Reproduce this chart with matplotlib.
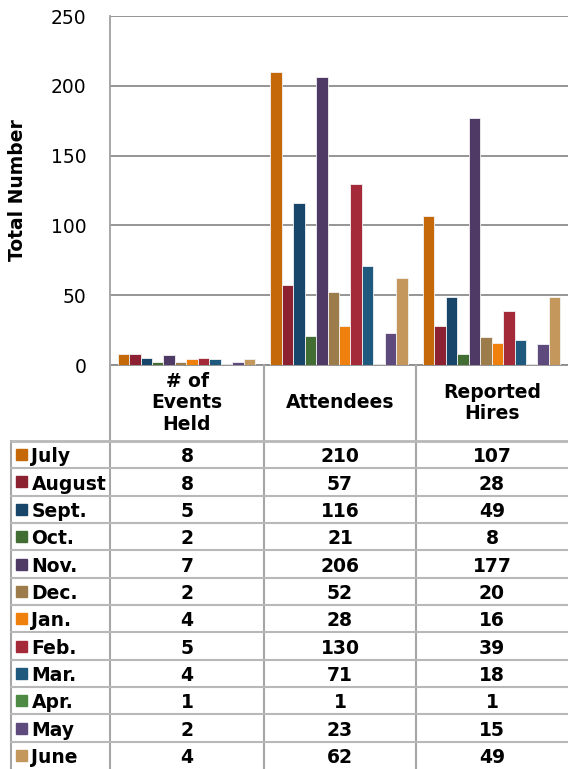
import matplotlib.pyplot as plt
from matplotlib.patches import Rectangle
from matplotlib.lines import Line2D
import numpy as np

months = ["July", "August", "Sept.", "Oct.", "Nov.", "Dec.",
          "Jan.", "Feb.", "Mar.", "Apr.", "May", "June"]
categories = ["# of\nEvents\nHeld", "Attendees", "Reported\nHires"]
events_held = [8, 8, 5, 2, 7, 2, 4, 5, 4, 1, 2, 4]
attendees = [210, 57, 116, 21, 206, 52, 28, 130, 71, 1, 23, 62]
reported_hires = [107, 28, 49, 8, 177, 20, 16, 39, 18, 1, 15, 49]
colors = ["#C5680A", "#8B2131", "#17466A", "#426E34", "#4F3A66", "#9C7C4A",
          "#F0800E", "#A42A3A", "#1F5A7E", "#4E8A43", "#5F4A7D", "#C4985C"]
yticks = [0, 50, 100, 150, 200, 250]

series = [events_held, attendees, reported_hires]

W, H = 568, 769
plt.rcParams['font.family'] = 'DejaVu Sans'
fig = plt.figure(figsize=(W / 100, H / 100), dpi=100)


def fx(x):
    return x / W


def fy(y):
    return 1 - y / H


# layout in pixels
left, right, top, base = 110, 568, 16, 365
col_edges = [110, 264, 416, 568]
legend_left = 10.7
head_bottom = 441
row_h = (H - head_bottom) / len(months)
fs = 13.5
grid_col = "#8c8c8c"
tab_col = "#a6a6a6"

ax = fig.add_axes([fx(left), fy(base), fx(right - left), (base - top) / H])
ax.set_xlim(0, 3)
ax.set_ylim(0, 250)

bw = 0.075
start = 0.5 - bw * len(months) / 2
for i, (m, c) in enumerate(zip(months, colors)):
    vals = [s[i] for s in series]
    xs = np.arange(3) + start + (i + 0.5) * bw
    ax.bar(xs, vals, width=bw, color=c, edgecolor="#f2f2f2", linewidth=0.6, zorder=3)

ax.set_yticks(yticks)
ax.set_yticklabels([str(t) for t in yticks], fontsize=fs)
ax.tick_params(axis='y', length=0, pad=17)
ax.set_xticks([])
ax.yaxis.grid(True, color=grid_col, linewidth=1.3, zorder=0)
ax.set_axisbelow(True)
for s in ["top", "right"]:
    ax.spines[s].set_visible(False)
ax.spines["left"].set_color("#a0a0a0")
ax.spines["left"].set_linewidth(1.3)
ax.spines["bottom"].set_color(grid_col)
ax.spines["bottom"].set_linewidth(1.3)
ax.set_ylabel("Total Number", fontsize=fs, fontweight="bold", labelpad=17)

# data table below the chart
def hline(y, x0, x1, col=tab_col, lw=1.5):
    fig.add_artist(Line2D([fx(x0), fx(x1)], [fy(y), fy(y)], color=col, lw=lw))


def vline(x, y0, y1, col=tab_col, lw=1.5):
    fig.add_artist(Line2D([fx(x), fx(x)], [fy(y0), fy(y1)], color=col, lw=lw))


vline(left, base, H)
for x in col_edges[1:3]:
    vline(x, base, H)
vline(legend_left, head_bottom, H)
hline(head_bottom, legend_left, W, col="#b8b8b8", lw=2)
for k in range(1, len(months)):
    hline(head_bottom + k * row_h, legend_left, W, col="#b8b8b8", lw=1.5)

for j, cat in enumerate(categories):
    cx = (col_edges[j] + col_edges[j + 1]) / 2
    fig.text(fx(cx), fy((base + head_bottom) / 2), cat, ha="center", va="center",
             fontsize=fs, fontweight="bold", linespacing=1.15)

for i, (m, c) in enumerate(zip(months, colors)):
    cy = head_bottom + (i + 0.5) * row_h
    fig.add_artist(Rectangle((fx(16), fy(cy + 5.5)), fx(11), 11 / H,
                             transform=fig.transFigure, color=c))
    fig.text(fx(31.5), fy(cy), m, ha="left", va="center_baseline",
             fontsize=fs, fontweight="bold")
    for j, s in enumerate(series):
        cx = (col_edges[j] + col_edges[j + 1]) / 2
        fig.text(fx(cx), fy(cy), str(s[i]), ha="center", va="center_baseline",
                 fontsize=fs, fontweight="bold")

fig.savefig("out.png", dpi=100)
